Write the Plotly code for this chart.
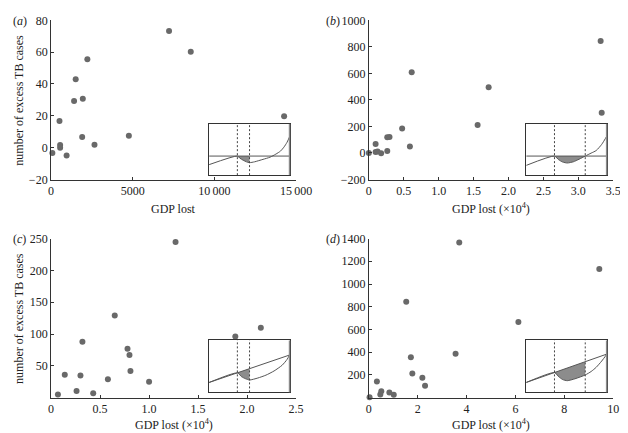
import numpy as np
import plotly.graph_objects as go

# ---------------- data ----------------
a_gdp = [80, 516, 556, 556, 952, 1409, 1508, 1944, 1905, 2222, 2659, 4762, 7222, 8552, 14266]
a_tb = [-3.4, 16.8, 1.6, 0.0, -5.0, 29.3, 43.0, 30.7, 6.7, 55.6, 1.8, 7.5, 73.3, 60.2, 19.8]

b_gdp = [0.0, 0.097, 0.097, 0.125, 0.176, 0.264, 0.296, 0.264, 0.477, 0.588, 0.614, 1.558, 1.716, 3.32, 3.335]
b_tb = [0, 67, 7, 12, -2, 118, 120, 14, 185, 48, 608, 211, 495, 844, 303]

c_gdp = [0.07, 0.14, 0.26, 0.30, 0.32, 0.43, 0.58, 0.65, 0.78, 0.80, 0.81, 1.0, 1.27, 1.88, 2.14]
c_tb = [5, 36, 10.6, 35, 88, 7, 29, 129, 77, 67, 42, 25, 244.5, 96, 110]

d_gdp = [0.03, 0.33, 0.47, 0.51, 0.84, 1.02, 1.53, 1.72, 1.78, 2.19, 2.30, 3.55, 3.7, 6.12, 9.43]
d_tb = [3, 142, 28, 57, 45, 26, 845, 356, 213, 176, 105, 387, 1365, 666, 1132]

a_xticks = [0, 5000, 10000, 15000]
a_xtext = ["0", "5000", "10\u2009000", "15\u2009000"]
a_yticks = [-20, 0, 20, 40, 60, 80]
a_ytext = ["\u221220", "0", "20", "40", "60", "80"]
b_xticks = [0, 0.5, 1.0, 1.5, 2.0, 2.5, 3.0, 3.5]
b_xtext = ["0", "0.5", "1.0", "1.5", "2.0", "2.5", "3.0", "3.5"]
b_yticks = [-200, 0, 200, 400, 600, 800, 1000]
b_ytext = ["\u2212200", "0", "200", "400", "600", "800", "1000"]
c_xticks = [0, 0.5, 1.0, 1.5, 2.0, 2.5]
c_xtext = ["0", "0.5", "1.0", "1.5", "2.0", "2.5"]
c_yticks = [50, 100, 150, 200, 250]
c_ytext = ["50", "100", "150", "200", "250"]
d_xticks = [0, 2, 4, 6, 8, 10]
d_xtext = ["0", "2", "4", "6", "8", "10"]
d_yticks = [200, 400, 600, 800, 1000, 1200, 1400]
d_ytext = ["200", "400", "600", "800", "1000", "1200", "1400"]

# schematic inset curves (normalised inset coordinates)
ia_line_x = [0, 1]
ia_line_y = [0.372, 0.372]
ia_curve_x = [0, 0.348, 0.38, 0.42, 0.46, 0.498, 0.56, 0.664, 0.75, 0.822, 0.88, 0.921, 0.96, 1.0]
ia_curve_y = [0.205, 0.372, 0.33, 0.29, 0.26, 0.244, 0.26, 0.308, 0.35, 0.41, 0.47, 0.545, 0.64, 0.78]
ia_cuts = [0.348, 0.498]

ib_line_x = [0, 1]
ib_line_y = [0.372, 0.372]
ib_curve_x = [0, 0.348, 0.40, 0.45, 0.506, 0.58, 0.65, 0.727, 0.80, 0.862, 0.93, 1.0]
ib_curve_y = [0.19, 0.372, 0.30, 0.255, 0.237, 0.26, 0.31, 0.372, 0.43, 0.48, 0.60, 0.78]
ib_cuts = [0.348, 0.727]

ic_line_x = [0, 1]
ic_line_y = [0.19, 0.72]
ic_curve_x = [0, 0.348, 0.40, 0.45, 0.498, 0.60, 0.70, 0.80, 0.90, 0.96, 1.0]
ic_curve_y = [0.19, 0.374, 0.30, 0.26, 0.237, 0.275, 0.33, 0.41, 0.52, 0.63, 0.74]
ic_cuts = [0.348, 0.498]

id_line_x = [0, 1]
id_line_y = [0.19, 0.737]
id_curve_x = [0, 0.348, 0.40, 0.45, 0.506, 0.60, 0.727, 0.80, 0.862, 0.93, 1.0]
id_curve_y = [0.19, 0.38, 0.30, 0.245, 0.224, 0.26, 0.333, 0.40, 0.48, 0.60, 0.745]
id_cuts = [0.348, 0.727]

# ---------------- layout geometry ----------------
W, H = 628, 433
def px(x):
    return x / W
def py(y):
    return 1 - y / H

main_x = [[px(41.3), px(294)], [px(369), px(621)]]
main_y = [[py(170), py(5.5)], [py(395.5), py(231)]]
inset_x = [[px(204.3), px(288)], [px(531.3), px(615)]]
inset_y = [[py(165.5), py(112.5)], [py(390), py(336)]]

FONT = "Liberation Serif, Times New Roman, serif"
AX = "#333333"
DOT = "#696969"

fig = go.Figure()
panels = [
    (a_gdp, a_tb, [0, 15000], [-20, 80], a_xticks, a_xtext, a_yticks, a_ytext, 0, 0),
    (b_gdp, b_tb, [0, 3.5], [-200, 1000], b_xticks, b_xtext, b_yticks, b_ytext, 1, 0),
    (c_gdp, c_tb, [0, 2.5], [0, 250], c_xticks, c_xtext, c_yticks, c_ytext, 0, 1),
    (d_gdp, d_tb, [0, 10], [0, 1400], d_xticks, d_xtext, d_yticks, d_ytext, 1, 1),
]
layout = {}
for i, (xs, ys, xr, yr, xt, xtt, yt, ytt, col, row) in enumerate(panels, start=1):
    sx = "" if i == 1 else str(i)
    fig.add_trace(go.Scatter(x=xs, y=ys, mode="markers", xaxis="x" + sx, yaxis="y" + sx,
                             marker=dict(size=6, color=DOT), cliponaxis=False, showlegend=False))
    common = dict(showline=True, linecolor=AX, linewidth=1, ticks="inside", ticklen=3,
                  tickcolor=AX, showgrid=False, zeroline=False,
                  tickfont=dict(family=FONT, size=12, color="#222"))
    layout["xaxis" + sx] = dict(domain=main_x[col], range=xr, anchor="y" + sx,
                                tickmode="array", tickvals=xt, ticktext=xtt, **common)
    layout["yaxis" + sx] = dict(domain=main_y[row], range=yr, anchor="x" + sx,
                                tickmode="array", tickvals=yt, ticktext=ytt, **common)

insets = [
    (ia_line_x, ia_line_y, ia_curve_x, ia_curve_y, ia_cuts, 0, 0),
    (ib_line_x, ib_line_y, ib_curve_x, ib_curve_y, ib_cuts, 1, 0),
    (ic_line_x, ic_line_y, ic_curve_x, ic_curve_y, ic_cuts, 0, 1),
    (id_line_x, id_line_y, id_curve_x, id_curve_y, id_cuts, 1, 1),
]
shapes = []
for j, (lx, ly, cx, cy, cuts, col, row) in enumerate(insets, start=5):
    xa, ya = "x%d" % j, "y%d" % j
    x0, x1 = cuts
    # shaded region between straight line and curve
    fx = [x0, x1]
    fy = [float(np.interp(x0, lx, ly)), float(np.interp(x1, lx, ly))]
    fx.append(x1)
    fy.append(float(np.interp(x1, cx, cy)))
    inner = [(x, y) for x, y in zip(cx, cy) if x0 < x < x1]
    for x, y in reversed(inner):
        fx.append(x)
        fy.append(y)
    fx.append(x0)
    fy.append(float(np.interp(x0, cx, cy)))
    fig.add_trace(go.Scatter(x=fx, y=fy, mode="lines", fill="toself", fillcolor="#8c8c8c",
                             line=dict(width=0, color="#8c8c8c"), xaxis=xa, yaxis=ya,
                             showlegend=False, hoverinfo="skip"))
    fig.add_trace(go.Scatter(x=lx, y=ly, mode="lines", line=dict(color="#555", width=1),
                             xaxis=xa, yaxis=ya, showlegend=False))
    fig.add_trace(go.Scatter(x=cx, y=cy, mode="lines", line=dict(color="#555", width=1, shape="spline", smoothing=0.6),
                             xaxis=xa, yaxis=ya, showlegend=False))
    for c in cuts:
        shapes.append(dict(type="line", xref=xa, yref=ya, x0=c, x1=c, y0=0, y1=1,
                           line=dict(color="#444", width=1, dash="2px,2px")))
    shapes.append(dict(type="line", xref=xa, yref=ya, x0=1, x1=1, y0=0, y1=1,
                       line=dict(color="#8a8a8a", width=3)))
    ic = dict(showline=True, mirror=True, linecolor=AX, linewidth=1, ticks="",
              showticklabels=False, showgrid=False, zeroline=False, range=[0, 1], fixedrange=True)
    layout["xaxis%d" % j] = dict(domain=inset_x[col], anchor=ya, **ic)
    layout["yaxis%d" % j] = dict(domain=inset_y[row], anchor=xa, **ic)

ann = []
tf = dict(family=FONT, size=12, color="#222")
# x titles
for col in range(2):
    for row in range(2):
        txt = "GDP lost" if (col == 0 and row == 0) else "GDP lost (\u00d710<sup>4</sup>)"
        yy = py(200) if row == 0 else py(423)
        ann.append(dict(text=txt, x=(main_x[col][0] + main_x[col][1]) / 2, y=yy, xref="paper", yref="paper",
                        showarrow=False, font=tf, xanchor="center", yanchor="middle"))
# y titles
for row in range(2):
    ann.append(dict(text="number of excess TB cases", x=px(8), y=(main_y[row][0] + main_y[row][1]) / 2,
                    xref="paper", yref="paper", textangle=-90, showarrow=False, font=tf,
                    xanchor="center", yanchor="middle"))
# panel labels
for lab, xx, yy in [("a", 0.5, 6), ("b", 323, 6), ("c", 0.5, 231), ("d", 323, 231)]:
    ann.append(dict(text="(<i>%s</i>)" % lab, x=px(xx), y=py(yy), xref="paper", yref="paper",
                    showarrow=False, font=tf, xanchor="left", yanchor="middle"))

fig.update_layout(width=W, height=H, margin=dict(l=0, r=0, t=0, b=0),
                  paper_bgcolor="white", plot_bgcolor="white",
                  annotations=ann, shapes=shapes, showlegend=False, **layout)
fig.write_html("out.html")
